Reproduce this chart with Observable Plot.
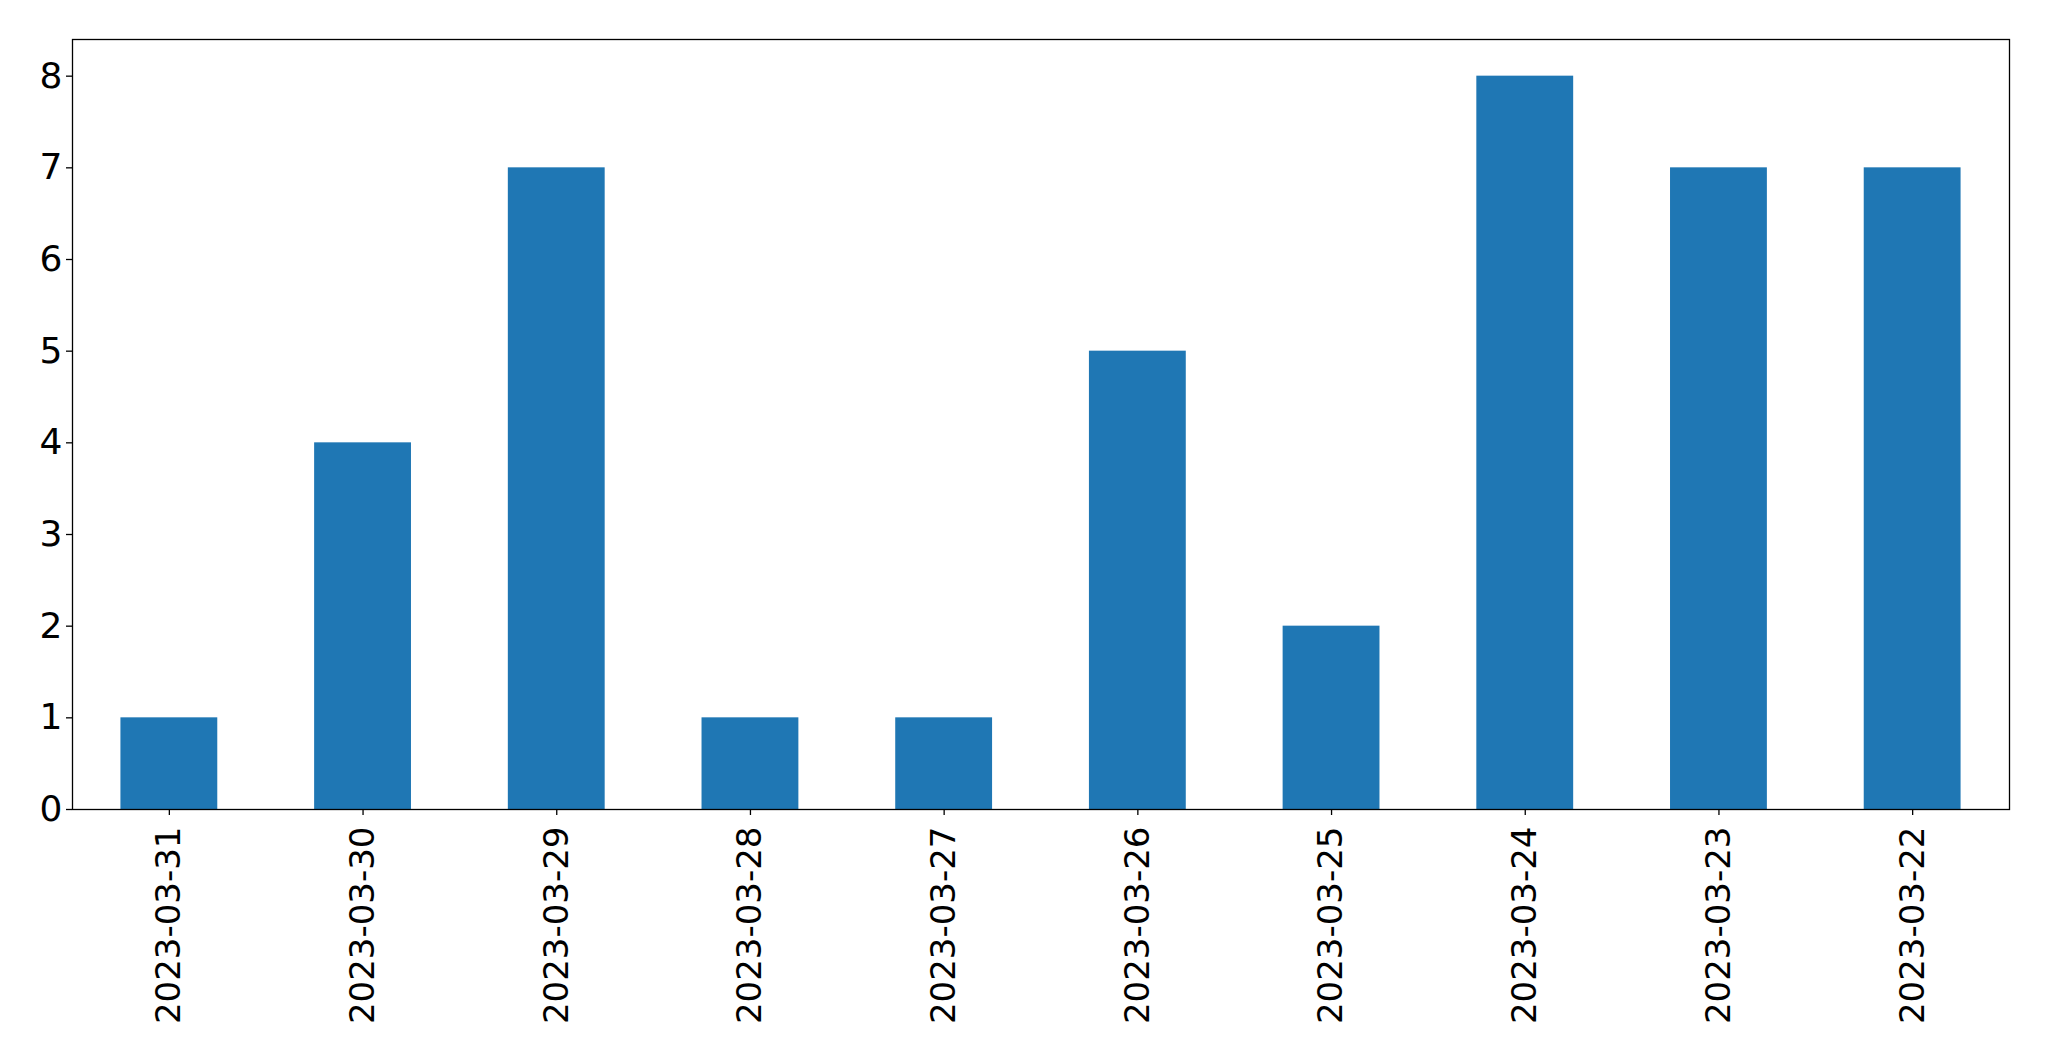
<!DOCTYPE html>
<html>
<head>
<meta charset="utf-8">
<script src="https://cdn.jsdelivr.net/npm/d3@7"></script>
<script src="https://cdn.jsdelivr.net/npm/@observablehq/plot@0.6"></script>
<style>
  html, body { margin: 0; padding: 0; background: #fff; }
  svg { display: block; }
</style>
</head>
<body>
<div id="chart"></div>
<script>
const dates = ["2023-03-31","2023-03-30","2023-03-29","2023-03-28","2023-03-27","2023-03-26","2023-03-25","2023-03-24","2023-03-23","2023-03-22"];
const counts = [1, 4, 7, 1, 1, 5, 2, 8, 7, 7];
const yTicks = [0, 1, 2, 3, 4, 5, 6, 7, 8];

const data = dates.map((d, i) => ({date: d, count: counts[i]}));

const chart = Plot.plot({
  width: 2049,
  height: 1061,
  marginLeft: 72,
  marginTop: 39,
  marginRight: 40,
  marginBottom: 252,
  style: {fontFamily: "DejaVu Sans", background: "#fff", color: "#000"},
  x: {type: "band", domain: dates, paddingInner: 0.5, paddingOuter: 0.25, round: false, label: null},
  y: {domain: [0, 8.4], label: null},
  marks: [
    Plot.barY(data, {x: "date", y: "count", fill: "#1f77b4"}),
    Plot.frame({stroke: "#000", strokeWidth: 1.3}),
    Plot.axisY({ticks: yTicks, tickSize: 6, tickPadding: 4, fontSize: 36, tickFormat: d3.format("d"), label: null, stroke: "#000", strokeWidth: 1.3}),
    Plot.axisX({tickSize: 6, tickPadding: 11, fontSize: 34, tickRotate: -90, label: null, stroke: "#000", strokeWidth: 1.3})
  ]
});
document.getElementById("chart").appendChild(chart);
</script>
</body>
</html>
